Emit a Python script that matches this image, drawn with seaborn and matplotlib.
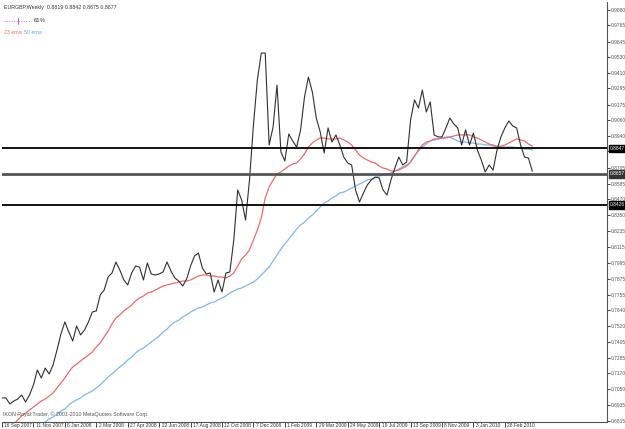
import matplotlib
matplotlib.use("Agg")
import matplotlib.pyplot as plt
import matplotlib.transforms as mtransforms
import seaborn as sns
import pandas as pd
import numpy as np
from matplotlib.lines import Line2D

# ---- data (weekly bars, EURGBP) ----
close = [0.6986, 0.6986, 0.6941, 0.6963, 0.6978, 0.7008, 0.6956, 0.7008, 0.7083, 0.7194,
         0.7135, 0.7209, 0.7165, 0.7232, 0.7344, 0.7463, 0.7553, 0.7478, 0.7411, 0.7523,
         0.7456, 0.7493, 0.7553, 0.7627, 0.7635, 0.7754, 0.7791, 0.7888, 0.7918, 0.8000,
         0.7940, 0.7866, 0.7829, 0.7918, 0.7970, 0.7963, 0.7866, 0.7993, 0.7911, 0.7903,
         0.7911, 0.7926, 0.8000, 0.7933, 0.7881, 0.7858, 0.7821, 0.7873, 0.7970, 0.8045,
         0.8067, 0.7955, 0.7911, 0.7918, 0.7776, 0.7866, 0.7776, 0.7918, 0.7926, 0.8164,
         0.8537, 0.8463, 0.8313, 0.8612, 0.9022, 0.9358, 0.9559, 0.9559, 0.8873, 0.9007,
         0.9320, 0.8821, 0.8754, 0.8955, 0.8903, 0.8858, 0.8985, 0.9231, 0.9380, 0.9268,
         0.9074, 0.8970, 0.8813, 0.9000, 0.8895, 0.8948, 0.8873, 0.8783, 0.8739, 0.8724,
         0.8537, 0.8448, 0.8515, 0.8575, 0.8612, 0.8634, 0.8627, 0.8537, 0.8500, 0.8612,
         0.8701, 0.8783, 0.8724, 0.8746, 0.9059, 0.9209, 0.9149, 0.9283, 0.9119, 0.9194,
         0.8948, 0.8933, 0.8933, 0.9000, 0.9074, 0.9030, 0.9000, 0.8873, 0.8985, 0.8873,
         0.8962, 0.8836, 0.8761, 0.8672, 0.8724, 0.8686, 0.8836, 0.8933, 0.9000, 0.9052,
         0.9015, 0.9000, 0.8873, 0.8783, 0.8776, 0.8677]

ema23 = [0.6702, 0.6732, 0.6762, 0.6792, 0.6821, 0.6851, 0.6874, 0.6896, 0.6918, 0.6941,
         0.6963, 0.6978, 0.7000, 0.7023, 0.7060, 0.7097, 0.7135, 0.7180, 0.7217, 0.7239,
         0.7262, 0.7284, 0.7306, 0.7329, 0.7366, 0.7396, 0.7441, 0.7485, 0.7538, 0.7582,
         0.7605, 0.7635, 0.7657, 0.7679, 0.7709, 0.7732, 0.7746, 0.7769, 0.7776, 0.7791,
         0.7806, 0.7821, 0.7829, 0.7836, 0.7843, 0.7851, 0.7858, 0.7858, 0.7866, 0.7881,
         0.7896, 0.7903, 0.7903, 0.7896, 0.7896, 0.7888, 0.7888, 0.7881, 0.7896, 0.7918,
         0.7970, 0.8023, 0.8052, 0.8090, 0.8164, 0.8239, 0.8328, 0.8478, 0.8560, 0.8612,
         0.8657, 0.8672, 0.8694, 0.8716, 0.8731, 0.8739, 0.8769, 0.8806, 0.8858, 0.8888,
         0.8910, 0.8925, 0.8925, 0.8918, 0.8918, 0.8918, 0.8925, 0.8910, 0.8895, 0.8873,
         0.8836, 0.8798, 0.8776, 0.8761, 0.8746, 0.8739, 0.8716, 0.8701, 0.8694, 0.8679,
         0.8679, 0.8686, 0.8701, 0.8716, 0.8746, 0.8791, 0.8836, 0.8873, 0.8895, 0.8903,
         0.8918, 0.8918, 0.8925, 0.8925, 0.8933, 0.8940, 0.8948, 0.8948, 0.8948, 0.8948,
         0.8933, 0.8925, 0.8910, 0.8895, 0.8880, 0.8873, 0.8858, 0.8865, 0.8873, 0.8888,
         0.8903, 0.8918, 0.8910, 0.8903, 0.8880, 0.8865]

ema50 = [0.6583, 0.6605, 0.6620, 0.6642, 0.6665, 0.6680, 0.6702, 0.6724, 0.6739, 0.6762,
         0.6784, 0.6806, 0.6829, 0.6844, 0.6866, 0.6889, 0.6903, 0.6933, 0.6956, 0.6971,
         0.6986, 0.7008, 0.7023, 0.7038, 0.7060, 0.7083, 0.7112, 0.7142, 0.7165, 0.7194,
         0.7217, 0.7239, 0.7269, 0.7291, 0.7321, 0.7344, 0.7358, 0.7381, 0.7403, 0.7426,
         0.7448, 0.7478, 0.7500, 0.7530, 0.7553, 0.7567, 0.7590, 0.7605, 0.7627, 0.7642,
         0.7657, 0.7664, 0.7679, 0.7694, 0.7702, 0.7717, 0.7732, 0.7746, 0.7769, 0.7784,
         0.7799, 0.7806, 0.7821, 0.7836, 0.7851, 0.7873, 0.7903, 0.7933, 0.7963, 0.8008,
         0.8052, 0.8097, 0.8134, 0.8172, 0.8209, 0.8246, 0.8276, 0.8298, 0.8328, 0.8351,
         0.8381, 0.8410, 0.8440, 0.8455, 0.8478, 0.8492, 0.8515, 0.8522, 0.8537, 0.8552,
         0.8567, 0.8582, 0.8597, 0.8612, 0.8619, 0.8627, 0.8642, 0.8649, 0.8657, 0.8664,
         0.8679, 0.8694, 0.8709, 0.8724, 0.8746, 0.8791, 0.8828, 0.8858, 0.8880, 0.8903,
         0.8910, 0.8918, 0.8925, 0.8933, 0.8933, 0.8918, 0.8903, 0.8895, 0.8895, 0.8888,
         0.8888, 0.8880, 0.8880, 0.8873, 0.8873, 0.8865, 0.8865, 0.8858, 0.8858, 0.8858,
         0.8858, 0.8851, 0.8851, 0.8843, 0.8843, 0.8836]

hlines = [0.8847, 0.8657, 0.8426]
hline_labels = ["0.8847", "0.8657", "0.8426"]

ytick_values = [0.9880, 0.9765, 0.9645, 0.9530, 0.9410, 0.9295, 0.9175, 0.9060, 0.8940,
                0.8825, 0.8705, 0.8585, 0.8470, 0.8350, 0.8235, 0.8115, 0.7995, 0.7875,
                0.7755, 0.7640, 0.7520, 0.7405, 0.7285, 0.7170, 0.7050, 0.6935, 0.6815]

xtick_weeks = [0, 8, 16, 24, 32, 40, 48, 56, 64, 72, 80, 88, 96, 104, 112, 120, 128]
xtick_labels = ["16 Sep 2007", "11 Nov 2007", "6 Jan 2008", "2 Mar 2008", "27 Apr 2008",
                "22 Jun 2008", "17 Aug 2008", "12 Oct 2008", "7 Dec 2008", "1 Feb 2009",
                "29 Mar 2009", "24 May 2009", "19 Jul 2009", "13 Sep 2009", "8 Nov 2009",
                "3 Jan 2010", "28 Feb 2010"]

title_text = "EURGBP,Weekly  0.8819 0.8842 0.8675 0.8677"
copyright_text = "IKON Royal Trader, \u00a9 2001-2010 MetaQuotes Software Corp."

# ---- figure ----
sns.set_style("white")
plt.rcParams['font.family'] = ['Liberation Sans', 'DejaVu Sans']

W, H = 625, 429
FS = 3.5
fig = plt.figure(figsize=(W / 100, H / 100), dpi=100)
ax = fig.add_axes([2 / W, 7 / H, 605 / W, 420 / H])

weeks = np.arange(len(close))
df = pd.DataFrame({"week": weeks, "close": close, "ema23": ema23, "ema50": ema50})

sns.lineplot(data=df, x="week", y="ema50", ax=ax, color="#7fb8f0", linewidth=0.9)
sns.lineplot(data=df, x="week", y="ema23", ax=ax, color="#f06a6a", linewidth=0.9)
sns.lineplot(data=df, x="week", y="close", ax=ax, color="#303030", linewidth=0.8)

line_styles = [("black", 1.3), ("#555555", 2.0), ("black", 1.3)]
for val, (c, lw) in zip(hlines, line_styles):
    ax.axhline(val, color=c, linewidth=lw, zorder=5)

ax.set_xlim(0, 154)
ax.set_ylim(0.68065, 0.99397)

ax.yaxis.tick_right()
ax.set_yticks(ytick_values)
ax.set_yticklabels([f"{v:.4f}" for v in ytick_values])
ax.tick_params(axis="y", right=True, length=2, width=0.6, labelsize=FS, pad=1,
               colors="#222222", labelcolor="#555555")

ax.set_xticks(xtick_weeks)
ax.set_xticklabels(xtick_labels, ha="left")
ax.tick_params(axis="x", bottom=True, length=3.5, width=0.6, labelsize=FS, pad=-3.0,
               labelcolor="#333333")
shift = mtransforms.ScaledTranslation(2.5 / 100, 0, fig.dpi_scale_trans)
for lbl in ax.get_xticklabels():
    lbl.set_transform(lbl.get_transform() + shift)
ax.set_xlabel("")
ax.set_ylabel("")

for s in ["left", "top"]:
    ax.spines[s].set_visible(False)
for s in ["right", "bottom"]:
    ax.spines[s].set_color("#555555")
    ax.spines[s].set_linewidth(0.8)

# price boxes for horizontal lines on the right axis
box_colors = ["black", "#333333", "black"]
for val, lab, bc in zip(hlines, hline_labels, box_colors):
    ax.text(1.005, val, lab, transform=ax.get_yaxis_transform(), fontsize=FS,
            color="white", va="center", ha="left", zorder=10,
            bbox=dict(boxstyle="square,pad=0.25", fc=bc, ec=bc))

# header texts
fig.text(4 / W, 1 - 7 / H, title_text, fontsize=FS + 0.3, color="#333333", va="center", ha="left")
fig.add_artist(Line2D([4 / W, 30 / W], [1 - 21 / H, 1 - 21 / H], color="#d080c0",
                      linestyle=(0, (1, 1.5)), linewidth=0.7))
fig.add_artist(Line2D([18 / W, 18 / W], [1 - 18 / H, 1 - 24 / H], color="#b050a0",
                      linewidth=0.6))
fig.text(34 / W, 1 - 21 / H, "61%", fontsize=FS + 0.8, color="#333333", va="center", ha="left")
fig.text(4 / W, 1 - 33 / H, "23 ema", fontsize=FS + 0.3, color="#f06a6a", va="center", ha="left")
fig.text(24 / W, 1 - 33 / H, "50 ema", fontsize=FS + 0.3, color="#6aaaf0", va="center", ha="left")
fig.text(3 / W, 1 - 414 / H, copyright_text, fontsize=FS + 0.3, color="#555555",
         va="center", ha="left")

fig.savefig("out.png", dpi=100, facecolor="white")
